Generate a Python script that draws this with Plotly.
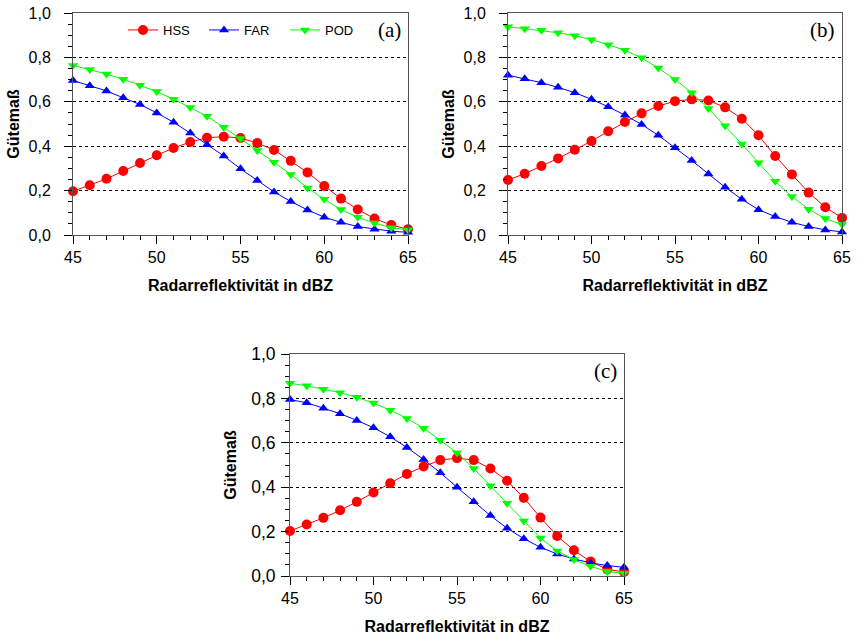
import plotly.graph_objects as go

dbz = list(range(45, 66))

hss_a = [0.197, 0.224, 0.253, 0.288, 0.324, 0.359, 0.392, 0.419, 0.438, 0.443, 0.437,
         0.414, 0.383, 0.334, 0.282, 0.221, 0.164, 0.115, 0.074, 0.045, 0.026]
far_a = [0.696, 0.672, 0.649, 0.618, 0.588, 0.550, 0.508, 0.459, 0.407, 0.356, 0.298,
         0.246, 0.194, 0.151, 0.113, 0.080, 0.057, 0.038, 0.026, 0.017, 0.012]
pod_a = [0.764, 0.746, 0.725, 0.702, 0.675, 0.646, 0.612, 0.574, 0.535, 0.485, 0.435,
         0.381, 0.328, 0.273, 0.212, 0.161, 0.115, 0.080, 0.054, 0.033, 0.023]

hss_b = [0.248, 0.276, 0.311, 0.345, 0.384, 0.423, 0.467, 0.509, 0.548, 0.581, 0.603,
         0.611, 0.606, 0.575, 0.524, 0.449, 0.356, 0.273, 0.191, 0.125, 0.077]
far_b = [0.720, 0.704, 0.686, 0.665, 0.641, 0.611, 0.578, 0.540, 0.498, 0.449, 0.393,
         0.336, 0.275, 0.215, 0.161, 0.114, 0.083, 0.057, 0.038, 0.023, 0.014]
pod_b = [0.938, 0.929, 0.922, 0.911, 0.898, 0.880, 0.857, 0.832, 0.798, 0.752, 0.701,
         0.641, 0.570, 0.492, 0.410, 0.326, 0.242, 0.173, 0.116, 0.074, 0.047]

hss_c = [0.203, 0.232, 0.262, 0.296, 0.334, 0.376, 0.418, 0.460, 0.493, 0.522, 0.531,
         0.522, 0.484, 0.429, 0.352, 0.263, 0.180, 0.116, 0.065, 0.030, 0.018]
far_c = [0.795, 0.780, 0.756, 0.731, 0.701, 0.668, 0.627, 0.579, 0.525, 0.465, 0.400,
         0.334, 0.272, 0.215, 0.168, 0.129, 0.099, 0.077, 0.059, 0.047, 0.039]
pod_c = [0.868, 0.857, 0.841, 0.826, 0.805, 0.779, 0.747, 0.710, 0.666, 0.612, 0.555,
         0.484, 0.406, 0.328, 0.248, 0.171, 0.113, 0.074, 0.044, 0.020, 0.012]

series_names = ["HSS", "FAR", "POD"]
panel_labels = ["(a)", "(b)", "(c)"]
x_title = "Radarreflektivität in dBZ"
y_title = "Gütemaß"

colors = {"HSS": "#FF0000", "FAR": "#0000FF", "POD": "#00FF00"}
symbols = {"HSS": "circle", "FAR": "triangle-up", "POD": "triangle-down"}
sizes = {"HSS": 10, "FAR": 9, "POD": 9}

W, H = 857, 640
# plot areas in pixels: (left, right, top, bottom)
boxes = [(73, 408, 13, 235), (508, 842, 13, 235), (290, 624, 354, 576)]
# per-panel y tick label style: (font size, standoff, title standoff)
ystyle = [(16, 10, 4), (16, 10, 4), (17.5, 2, 10)]

fig = go.Figure()
panels = [(hss_a, far_a, pod_a), (hss_b, far_b, pod_b), (hss_c, far_c, pod_c)]
for i, data in enumerate(panels):
    ax = "" if i == 0 else str(i + 1)
    for name, vals in zip(series_names, data):
        fig.add_trace(go.Scatter(
            x=dbz, y=vals, mode="lines+markers", name=name,
            xaxis="x" + ax, yaxis="y" + ax,
            line=dict(color=colors[name], width=1),
            marker=dict(symbol=symbols[name], size=sizes[name], color=colors[name]),
            showlegend=(i == 0), cliponaxis=False,
        ))

font_main = "Liberation Sans, Arial, sans-serif"
layout = dict(
    width=W, height=H, margin=dict(l=0, r=0, t=0, b=0, autoexpand=False),
    paper_bgcolor="white", plot_bgcolor="white",
    separators=",.",
    font=dict(family=font_main, size=15, color="black"),
    legend=dict(orientation="h", x=123 / W, y=1 - 15 / H, xanchor="left", yanchor="top",
                bgcolor="rgba(0,0,0,0)", font=dict(size=13), entrywidth=36,
                entrywidthmode="pixels", tracegroupgap=0),
    annotations=[],
)
for i, (l, r, t, b) in enumerate(boxes):
    ax = "" if i == 0 else str(i + 1)
    yfs, ystand, ytstand = ystyle[i]
    layout["xaxis" + ax] = dict(
        domain=[l / W, r / W], anchor="y" + ax, range=[45, 65], automargin=False,
        tickmode="linear", tick0=45, dtick=5, ticks="outside", ticklen=8, tickwidth=1,
        tickcolor="black", linecolor="#555", linewidth=1, mirror=True,
        showgrid=False, zeroline=False, ticklabelstandoff=0,
        minor=dict(dtick=1, ticks="outside", ticklen=4, tickwidth=1, tickcolor="black", showgrid=False),
        tickfont=dict(size=16),
        title=dict(text="<b>" + x_title + "</b>", font=dict(size=16), standoff=14),
    )
    layout["yaxis" + ax] = dict(
        domain=[1 - b / H, 1 - t / H], anchor="x" + ax, range=[0, 1.0], automargin=False,
        tickmode="linear", tick0=0, dtick=0.2, tickformat=".1f",
        ticks="outside", ticklen=8, tickwidth=1, tickcolor="black", ticklabelstandoff=ystand,
        linecolor="#555", linewidth=1, mirror=True, zeroline=False,
        showgrid=True, gridcolor="black", griddash="dot", gridwidth=1,
        minor=dict(dtick=0.05, ticks="outside", ticklen=4, tickwidth=1, tickcolor="black", showgrid=False),
        tickfont=dict(size=yfs),
        title=dict(text="<b>" + y_title + "</b>", font=dict(size=16), standoff=ytstand),
    )
    layout["annotations"].append(dict(
        text=panel_labels[i], xref="x" + ax + " domain", yref="y" + ax + " domain",
        x=0.985, y=0.985, xanchor="right", yanchor="top", showarrow=False,
        font=dict(family="Liberation Serif, Times New Roman, serif", size=21),
    ))

fig.update_layout(**layout)
fig.write_html("out.html", config={"displayModeBar": False},
               post_script="document.body.style.margin='0';")
